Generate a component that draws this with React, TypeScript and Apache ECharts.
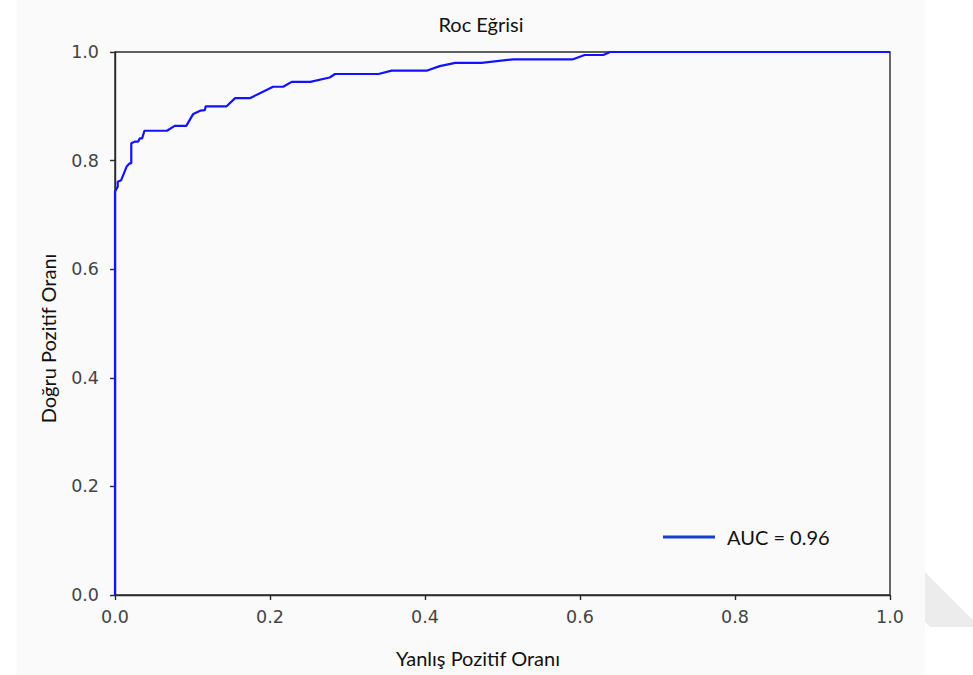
import React, { useEffect, useRef } from "react";
import * as echarts from "echarts";

const fpr = [
  0, 0, 0.0035, 0.0035, 0.008, 0.015, 0.019, 0.021, 0.021, 0.026, 0.03, 0.032, 0.035, 0.038,
  0.067, 0.077, 0.092, 0.101, 0.11, 0.116, 0.117, 0.144, 0.155, 0.174, 0.187, 0.204, 0.217,
  0.228, 0.252, 0.277, 0.284, 0.34, 0.357, 0.402, 0.419, 0.439, 0.473, 0.514, 0.591, 0.606,
  0.63, 0.639, 1.0,
];
const tpr = [
  0, 0.743, 0.752, 0.761, 0.764, 0.789, 0.795, 0.795, 0.832, 0.835, 0.835, 0.841, 0.841, 0.855,
  0.855, 0.864, 0.864, 0.886, 0.892, 0.893, 0.9, 0.9, 0.915, 0.915, 0.924, 0.936, 0.936,
  0.945, 0.945, 0.953, 0.9595, 0.9595, 0.9656, 0.9656, 0.974, 0.98, 0.98, 0.9865, 0.9865, 0.9945,
  0.9945, 1.0, 1.0,
];
const seriesName = "AUC = 0.96";
const titleText = "Roc Eğrisi";
const xLabel = "Yanlış Pozitif Oranı";
const yLabel = "Doğru Pozitif Oranı";
const tickValues = [0, 0.2, 0.4, 0.6, 0.8, 1.0];

const labelFont = "Lato, 'Open Sans', 'Liberation Sans', sans-serif";
const tickFont = "'DejaVu Sans', sans-serif";

export default function App() {
  const ref = useRef<HTMLDivElement>(null);
  useEffect(() => {
    if (!ref.current) return;
    const chart = echarts.init(ref.current, undefined, { renderer: "svg" });
    const data = fpr.map((x, i) => [x, tpr[i]]);
    const fmt = (v: number) => (tickValues.some((t) => Math.abs(t - v) < 1e-9) ? v.toFixed(1) : "");
    chart.setOption({
      animation: false,
      backgroundColor: "#ffffff",
      title: {
        text: titleText,
        left: 481,
        top: 14,
        padding: 0,
        textAlign: "center",
        textStyle: { fontFamily: labelFont, fontSize: 20, fontWeight: "normal", color: "#111" },
      },
      grid: {
        left: 115,
        top: 52,
        width: 775,
        height: 543,
        show: true,
        borderColor: "#2a2a2a",
        borderWidth: 1.4,
        backgroundColor: "transparent",
      },
      graphic: [
        {
          type: "rect",
          z: -100,
          silent: true,
          shape: { x: 17, y: 0, width: 908, height: 675 },
          style: { fill: "#fafafa" },
        },
        {
          type: "polygon",
          z: -90,
          silent: true,
          shape: {
            points: [
              [925, 572],
              [973, 620],
              [973, 627],
              [930, 627],
              [925, 622],
            ],
          },
          style: { fill: "#ececec" },
        },
      ],
      legend: {
        left: 663,
        top: 527,
        padding: 0,
        icon: "rect",
        itemWidth: 52,
        itemHeight: 3,
        data: [{ name: seriesName, itemStyle: { color: "#1a3fcc" } }],
        textStyle: { fontFamily: labelFont, fontSize: 20, color: "#111", padding: [0, 0, 0, 7] },
      },
      xAxis: {
        type: "value",
        min: 0,
        max: 1,
        interval: 0.2,
        name: xLabel,
        nameLocation: "middle",
        nameGap: 53,
        nameTextStyle: { fontFamily: labelFont, fontSize: 20, color: "#111", padding: [0, 49, 0, 0] },
        axisLine: { show: true, onZero: false, lineStyle: { color: "#2a2a2a", width: 1.4 } },
        axisTick: { show: true, length: 5, lineStyle: { color: "#2a2a2a", width: 1.4 } },
        axisLabel: {
          fontFamily: tickFont,
          fontSize: 17.5,
          color: "#444",
          margin: 13,
          formatter: fmt,
        },
        splitLine: { show: false },
      },
      yAxis: {
        type: "value",
        min: 0,
        max: 1,
        interval: 0.2,
        name: yLabel,
        nameLocation: "middle",
        nameGap: 57,
        nameTextStyle: { fontFamily: labelFont, fontSize: 20, color: "#111", padding: [0, 30, 0, 0] },
        axisLine: { show: true, onZero: false, lineStyle: { color: "#2a2a2a", width: 1.4 } },
        axisTick: { show: true, length: 5, lineStyle: { color: "#2a2a2a", width: 1.4 } },
        axisLabel: {
          fontFamily: tickFont,
          fontSize: 17.5,
          color: "#444",
          margin: 16,
          formatter: fmt,
        },
        splitLine: { show: false },
      },
      series: [
        {
          name: seriesName,
          type: "line",
          data,
          showSymbol: false,
          symbol: "none",
          clip: false,
          lineStyle: { color: "#1212ff", width: 2.2 },
          itemStyle: { color: "#1212ff" },
        },
      ],
    });
    return () => chart.dispose();
  }, []);
  return (
    <div
      ref={ref}
      style={{ position: "absolute", left: 0, top: 0, width: 973, height: 675 }}
    />
  );
}
